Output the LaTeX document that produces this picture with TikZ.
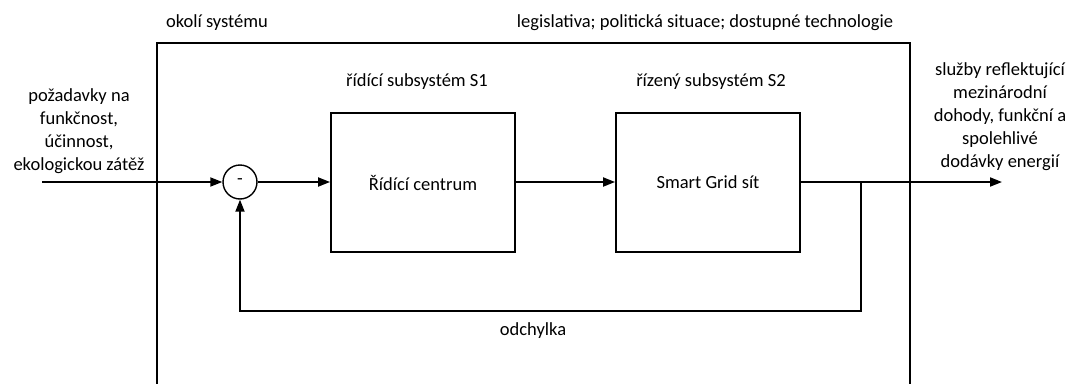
\documentclass[tikz,border=0pt]{standalone}
\usepackage{fontspec}
\setmainfont{Carlito}
\usetikzlibrary{arrows.meta}
\begin{document}
\begin{tikzpicture}[x=1pt,y=-1pt,
  every node/.style={font=\fontsize{18.5}{23}\selectfont, inner sep=0pt},
  wire/.style={line width=1.8pt, line cap=butt},
  flow/.style={wire, -{Triangle[length=12pt,width=9pt]}},
  block/.style={draw, line width=1.8pt, minimum width=184pt, minimum height=139pt},
  sum/.style={draw, circle, line width=1.4pt, minimum size=34pt}
]
\useasboundingbox (0,0) rectangle (1079,383);

% surroundings of the system (frame open at the bottom)
\draw[wire, line cap=rect] (157,383) -- (157,43) -- (910,43) -- (910,383);
\node (env) at (217,23) {okolí systému};
\node (ext) at (705,23) {legislativa; politická situace; dostupné technologie};

% subsystems
\node[block] (s1) at (423,182.5) {Řídící centrum};
\node[block] (s2) at (708,182.5) {Smart Grid sít};
\node (s1t) at (417,82) {řídící subsystém S1};
\node (s2t) at (711,82) {řízený subsystém S2};

% summing point
\node[sum] (cmp) at (240,182) {-};

% input and output texts
\node[align=center] (req) at (79,131) {požadavky na\\funkčnost,\\účinnost,\\ekologickou zátěž};
\node[align=center] (out) at (1000,116.5) {služby reflektující\\mezinárodní\\dohody, funkční a\\spolehlivé\\dodávky energií};
\node (dev) at (533,331) {odchylka};

\coordinate (in) at (42,182);
\coordinate (end) at (1002,182);
\coordinate (tap) at (861,182);
\coordinate (fb) at (861,311);

% signal flow
\draw[flow] (in) -- (cmp.west);
\draw[flow] (cmp.east) -- (s1.west |- cmp.east);
\draw[flow] (s1.east |- cmp.east) -- (s2.west |- cmp.east);
\draw[flow] (s2.east |- cmp.east) -- (end);
\draw[flow] (tap) -- (fb) -- (cmp.south |- fb) -- (cmp.south);
\end{tikzpicture}
\end{document}
